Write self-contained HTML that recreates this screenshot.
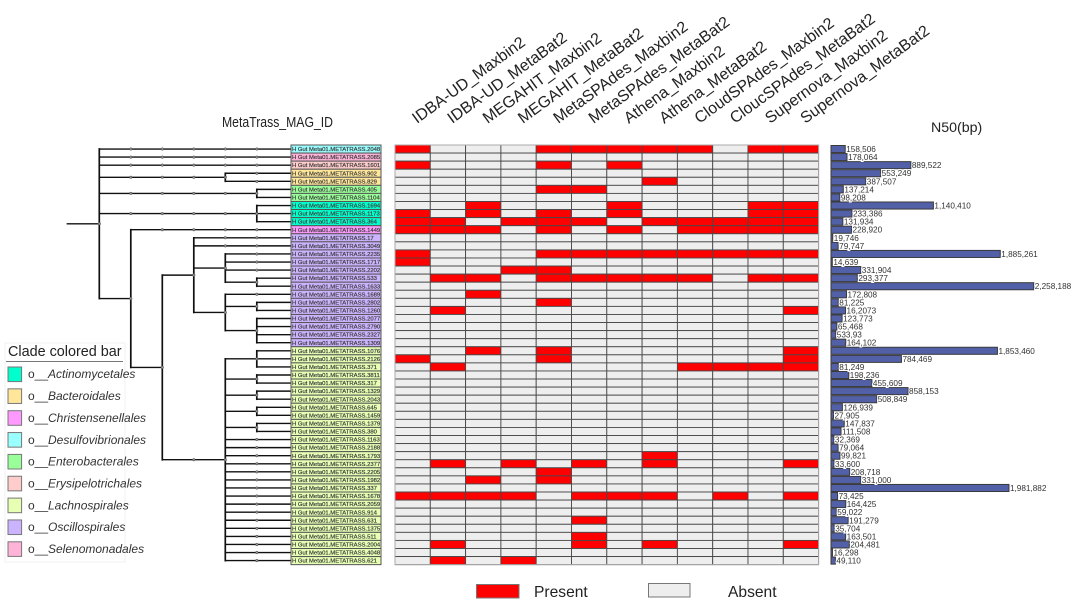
<!DOCTYPE html>
<html lang="en">
<head>
<meta charset="utf-8">
<title>MetaTrass MAG presence and N50</title>
<style>
html,body{margin:0;padding:0;background:#fff;}
body{width:1080px;height:606px;overflow:hidden;font-family:"Liberation Sans",sans-serif;}
svg{display:block;}
text{font-family:"Liberation Sans",sans-serif;}
</style>
</head>
<body>
<svg id="figure" xmlns="http://www.w3.org/2000/svg" width="1080" height="606" viewBox="0 0 1080 606">
  <text x="222" y="127" font-size="14.6" fill="#222" textLength="111" lengthAdjust="spacingAndGlyphs">MetaTrass_MAG_ID</text>
  <text x="931" y="132" font-size="14.2" fill="#222">N50(bp)</text>

  <g id="tree"></g>
  <g id="labels"></g>
  <g id="heatmap"></g>
  <g id="headers"></g>
  <g id="bars"></g>

  <g id="clade-legend">
    <rect x="5" y="343" width="120" height="219" fill="none" stroke="#f1f1f1" stroke-width="1"/>
    <text x="8" y="356" font-size="14.4" fill="#222">Clade colored bar</text>
    <line x1="6" y1="361.5" x2="123" y2="361.5" stroke="#777" stroke-width="1"/>
  </g>

  <g id="presence-legend">
    <rect x="476.5" y="584.5" width="42.5" height="13.5" fill="#ff0000" stroke="#777" stroke-width="1"/>
    <text x="534" y="597" font-size="15.6" fill="#222">Present</text>
    <rect x="648.5" y="583.5" width="41.5" height="13.5" fill="#eeeeee" stroke="#777" stroke-width="1"/>
    <text x="728" y="597" font-size="15.6" fill="#222">Absent</text>
  </g>
</svg>

<script>
// ---- data ----
const magIds = [2048,2085,1601,902,829,405,1104,1694,1173,364,1449,17,3049,2235,1717,2202,533,1633,1689,2802,1260,2077,2790,2327,1309,1076,2126,371,3811,317,1329,2043,645,1459,1379,380,1163,2188,1793,2377,2205,1982,337,1678,2059,914,631,1375,511,2004,4048,621];

const methods = ["IDBA-UD_Maxbin2","IDBA-UD_MetaBat2","MEGAHIT_Maxbin2","MEGAHIT_MetaBat2","MetaSPAdes_Maxbin2","MetaSPAdes_MetaBat2","Athena_Maxbin2","Athena_MetaBat2","CloudSPAdes_Maxbin2","CloucSPAdes_MetaBat2","Supernova_Maxbin2","Supernova_MetaBat2"];

const presentColumns = [
 [0,4,5,6,7,8,10,11],[],[0,4,6],[],[7],[4,5],[],[2,6,10,11],[0,2,4,6,10,11],[0,1,3,4,5,7,8,9,10,11],
 [0,1,2,4,6,8,9,10,11],[],[],[0,4,5,6,7,8,9,10,11],[0],[3,4],[1,2,4,5,6,7,8,10,11],[],[2],[4],
 [1,11],[],[],[],[],[2,4,11],[0,4,11],[1,8,9,10,11],[],[],
 [],[],[],[],[],[],[],[],[7],[1,3,5,7,11],
 [4],[2,4],[],[0,1,2,3,5,6,7,9,11],[],[],[5],[],[5],[1,5,7,11],
 [],[1,3]
];

const n50Values = [158506,178064,889522,553249,387507,137214,98208,1140410,233386,131934,228920,19746,79747,1885261,14639,331904,293377,2258188,172808,81225,162073,123773,65468,53393,164102,1853460,784469,81249,198236,455609,858153,508849,126939,27905,147837,111508,32369,79064,99821,33600,208718,331000,1981882,73425,164425,59022,191279,35704,163501,204481,16298,49110];

const n50Labels = ["158,506","178,064","889,522","553,249","387,507","137,214","98,208","1,140,410","233,386","131,934","228,920","19,746","79,747","1,885,261","14,639","331,904","293,377","2,258,188","172,808","81,225","16,2073","123,773","65,468","533,93","164,102","1,853,460","784,469","81,249","198,236","455,609","858,153","508,849","126,939","27,905","147,837","111,508","32,369","79,064","99,821","33,600","208,718","331,000","1,981,882","73,425","164,425","59,022","191,279","35,704","163,501","204,481","16,298","49,110"];

const cladeNames = ["Actinomycetales","Bacteroidales","Christensenellales","Desulfovibrionales","Enterobacterales","Erysipelotrichales","Lachnospirales","Oscillospirales","Selenomonadales"];
const cladeColors = ["#00ffcc","#ffe699","#ff99ff","#99ffff","#99ff99","#ffcccc","#e6ffb3","#ccb3ff","#ffb3d9"];
// clade index of each MAG row
const rowClades = [3,8,5,1,1,4,4,0,0,0,2,7,7,7,7,7,7,7,7,7,7,7,7,7,7,6,6,6,6,6,6,6,6,6,6,6,6,6,6,6,6,6,6,6,6,6,6,6,6,6,6,6];

// Tree topology: a number is a leaf row, [depth, ...children] is an internal node.
const treeTopology = [0,
  0,1,2,
  [4,3,4],
  [5,5,6],
  [5,7,8,9],
  [1,
    10,
    [2,
      [3,
        11,12,
        [4,13,14,15,[5,16,17]],
        [4,18,[5,19,20],[5,21,22,23,24]]
      ],
      [4,
        [5,25,26,27],[5,28,29],[5,30,31],[5,32,33],[5,34,35],
        36,37,38,39,40,41,42,43,44,45,46,47,48,49,50,51
      ]
    ]
  ]
];

// ---- axes ----
const NS = "http://www.w3.org/2000/svg";
const gridLeft = 395, colWidth = 35.3, gridTop = 145, rowHeight = 8.07;
const labelLeft = 291, labelWidth = 90;
const barLeft = 831, pxPerUnit = 0.0000898;
const treeLeft = 99.3, levelStep = 31.5, tipX = 290;
const xCol = function(c){ return gridLeft + c * colWidth; };
const yRow = function(r){ return gridTop + r * rowHeight; };
const yMid = function(r){ return yRow(r) + rowHeight / 2; };
const xBar = function(v){ return v * pxPerUnit; };
const xDepth = function(d){ return treeLeft + d * levelStep; };

function make(tag, parent, attrs){
  const el = document.createElementNS(NS, tag);
  for (const k in attrs) el.setAttribute(k, attrs[k]);
  parent.appendChild(el);
  return el;
}

// ---- tree ----
const treeG = document.getElementById("tree");
function branch(x1, y1, x2, y2){
  const el = make("line", treeG, {x1:x1, y1:y1, x2:x2, y2:y2, stroke:"#111", "stroke-width":(x1 === x2 ? 1.7 : 1.4), "stroke-linecap":"square"});
  
  
}
function tick(x, y){
  const el = make("circle", treeG, {cx:x, cy:y, r:1.2, fill:"#999", stroke:"#555", "stroke-width":0.6});
  
  
}
function nodeY(n){
  if (typeof n === "number") return yMid(n);
  const kids = n.slice(1);
  return (nodeY(kids[0]) + nodeY(kids[kids.length - 1])) / 2;
}
function drawNode(depth, kids){
  const x = xDepth(depth);
  const ys = kids.map(nodeY);
  branch(x, ys[0], x, ys[ys.length - 1]);
  kids.forEach(function(k, i){
    const isLeaf = typeof k === "number";
    const endDepth = isLeaf ? 6 : k[0];
    const endX = isLeaf ? tipX : xDepth(endDepth);
    branch(x, ys[i], endX, ys[i]);
    for (let d = depth + 1; d < endDepth; d++) tick(xDepth(d), ys[i]);
    if (!isLeaf) drawNode(k[0], k.slice(1));
  });
  tick(x, (ys[0] + ys[ys.length - 1]) / 2);
}
const rootKids = treeTopology.slice(1);
const rootY = (nodeY(rootKids[0]) + nodeY(rootKids[rootKids.length - 1])) / 2;
branch(67.3, rootY, treeLeft, rootY);
drawNode(treeTopology[0], rootKids);

// ---- MAG id labels ----
const labelsG = document.getElementById("labels");
magIds.forEach(function(id, r){
  const box = make("rect", labelsG, {x:labelLeft, y:yRow(r), width:labelWidth, height:rowHeight, fill:cladeColors[rowClades[r]], stroke:"#555", "stroke-width":1});
  
  
  const t = make("text", labelsG, {x:labelLeft + 1, y:yRow(r) + 6.1, "font-size":5.9, fill:"#333", stroke:"#444", "stroke-width":0.2});
  
  
  t.textContent = "H Gut Meta01.METATRASS." + id;
});

// ---- heatmap ----
const heatG = document.getElementById("heatmap");
magIds.forEach(function(id, r){
  methods.forEach(function(m, c){
    const on = presentColumns[r].indexOf(c) >= 0;
    const cell = make("rect", heatG, {x:xCol(c), y:yRow(r), width:colWidth, height:rowHeight, fill:on ? "#ff0000" : "#eeeeee", stroke:"#484848", "stroke-width":0.9});
    
    
  });
});
const frame = make("rect", heatG, {x:xCol(0), y:yRow(0), width:colWidth * methods.length, height:rowHeight * magIds.length, fill:"none", stroke:"#aaa", "stroke-width":1});



// ---- rotated method headers ----
const headG = document.getElementById("headers");
methods.forEach(function(m, c){
  const hx = xCol(c) + 22;
  const hy = 124;
  const t = make("text", headG, {x:hx, y:hy, "font-size":16, fill:"#222", transform:"rotate(-36 " + hx + " " + hy + ")"});
  
  
  t.textContent = m;
});

// ---- N50 bars ----
const barsG = document.getElementById("bars");
n50Values.forEach(function(v, r){
  const bar = make("rect", barsG, {x:barLeft, y:yRow(r) + 0.5, width:xBar(v), height:rowHeight - 1, fill:"#5260a8", stroke:"#3a3a3a", "stroke-width":1});
  
  
});
n50Values.forEach(function(v, r){
  const t = make("text", barsG, {x:barLeft + xBar(v) + 1, y:yMid(r) + 3, "font-size":8.2, fill:"#333", stroke:"#fff", "stroke-width":2, "paint-order":"stroke"});
  
  
  t.textContent = n50Labels[r];
});

// ---- clade legend ----
const legendG = document.getElementById("clade-legend");
cladeNames.forEach(function(name, i){
  const y = 367 + i * 21.85;
  const sw = make("rect", legendG, {x:8, y:y, width:13.6, height:14.6, fill:cladeColors[i], stroke:"#777", "stroke-width":1});
  
  
  const t = make("text", legendG, {x:28, y:y + 11.2, "font-size":12, fill:"#333"});
  
  
  t.textContent = "o__";
  const it = make("tspan", t, {x:48, "font-style":"italic"});
  it.textContent = name;
});
</script>
</body>
</html>
